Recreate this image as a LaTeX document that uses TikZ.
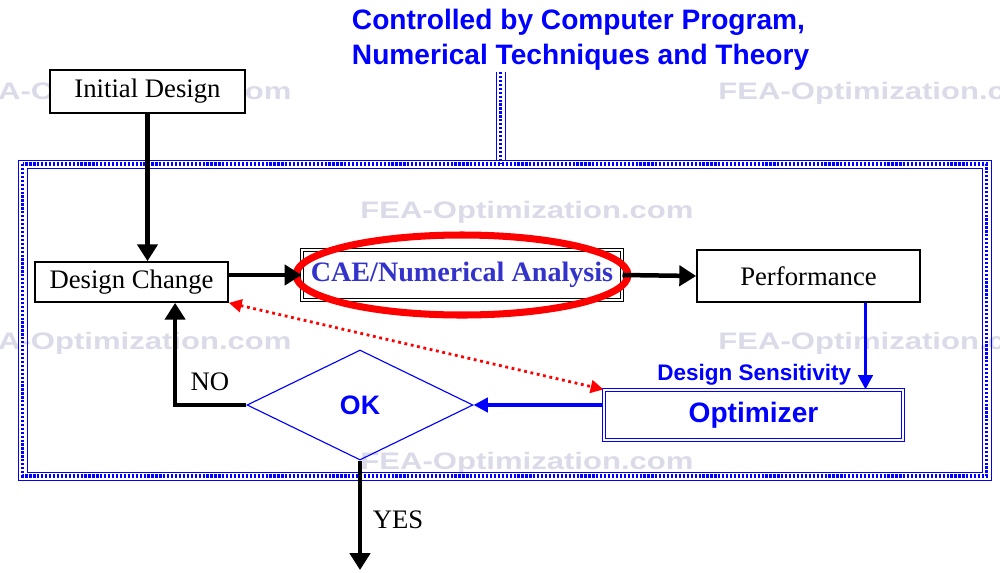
\documentclass[tikz,border=0pt]{standalone}
\usepackage{fontspec}
\setmainfont{Liberation Serif}
\setsansfont{Liberation Sans}
\usetikzlibrary{arrows.meta,shapes.geometric}
\definecolor{markgray}{RGB}{218,218,232}
\definecolor{caeblue}{RGB}{51,51,204}
\tikzset{
  box/.style={draw, fill=white, line width=1.2pt, inner sep=0pt, font=\fontsize{19}{22}\selectfont},
  flow/.style={line width=3.2pt, -{Triangle[length=4.2mm,width=5mm]}},
  blueflow/.style={draw=blue, line width=2.4pt, -{Triangle[length=3.6mm,width=3.6mm]}},
  band/.style={draw=blue, line width=2.2pt, dash pattern=on 1.6pt off 1.2pt},
  bandedge/.style={draw=blue, line width=0.7pt},
  watermark/.style={text=markgray, font=\sffamily\bfseries\fontsize{17}{20}\selectfont},
}
\begin{document}
\begin{tikzpicture}[x=0.25mm, y=-0.25mm]
  \useasboundingbox (0,0) rectangle (1000,572);
  % watermarks
  \begin{scope}
    \clip (0,0) rectangle (1000,572);
    \foreach \x/\y in {125/93, 885/93, 527/212, 125/343, 885/343, 527/463}
      \node[watermark] (wm) at (\x,\y) {\scalebox{1.3}[1]{FEA-Optimization.com}};
  \end{scope}
  % frame
  \draw[bandedge] (18,160) rectangle (991,480);
  \draw[bandedge] (27,168) rectangle (982,472);
  \draw[band] (22.5,164) rectangle (986.5,476);
  \draw[bandedge] (496,72) -- (496,160);
  \draw[bandedge] (505,72) -- (505,160);
  \draw[band] (500.5,72) -- (500.5,164);
  \node[anchor=north west, align=left, text=blue,
        font=\sffamily\bfseries\fontsize{20}{25}\selectfont] (title) at (347,4)
    {Controlled by Computer Program,\\Numerical Techniques and Theory};
  % boxes
  \node[box, minimum width=48.75mm, minimum height=10.75mm] (init) at (147.5,91.5) {Initial Design};
  \node[box, minimum width=48.25mm, minimum height=10mm] (dc) at (131.5,282) {Design Change};
  \node[box, line width=0.7pt, double, double distance=1.3pt, minimum width=80mm, minimum height=12.5mm,
        text=caeblue, font=\bfseries\fontsize{20}{24}\selectfont] (cae) at (462,275) {CAE/Numerical Analysis};
  \node[box, minimum width=55.75mm, minimum height=13mm] (perf) at (808.5,276) {Performance};
  \node[box, draw=blue, line width=0.8pt, double, double distance=1.3pt, minimum width=74.75mm, minimum height=12.5mm,
        text=blue, font=\sffamily\bfseries\fontsize{20}{24}\selectfont] (opt) at (753.5,415) {Optimizer};
  \node[diamond, draw=blue, line width=0.8pt, inner sep=0pt, minimum width=56.5mm, minimum height=27.5mm,
        text=blue, font=\sffamily\bfseries\fontsize{19}{22}\selectfont] (ok) at (360,405) {OK};
  \node[anchor=east, text=blue, font=\sffamily\bfseries\fontsize{16}{19}\selectfont] (sens) at (856,375) {Design Sensitivity};
  \draw[red, line width=5pt] (cae) ellipse [x radius=166, y radius=40];
  \coordinate (end) at (360,570);
  % connectors
  \draw[flow] (init.south) -- (init.south |- dc.north);
  \draw[flow] (dc.east |- cae.west) -- (cae.west);
  \draw[flow] (cae.east) -- (perf.west);
  \draw[blueflow] ([xshift=14.25mm]perf.south) -- ([xshift=14.25mm]perf.south |- opt.north);
  \draw[blueflow] (opt.west |- ok.east) -- (ok.east);
  \draw[flow] (ok.west) -| ([xshift=10.9mm]dc.south);
  \draw[flow] (ok.south) -- (end);
  \draw[red, line width=2pt, dash pattern=on 2pt off 2.6pt,
        {Triangle[length=3.2mm,width=3.2mm]}-{Triangle[length=3.2mm,width=3.2mm]}] (dc.south east) -- (opt.north west);
  \node[font=\fontsize{19}{22}\selectfont] (no) at (210,382) {NO};
  \node[font=\fontsize{19}{22}\selectfont] (yes) at (398,520) {YES};
\end{tikzpicture}
\end{document}
